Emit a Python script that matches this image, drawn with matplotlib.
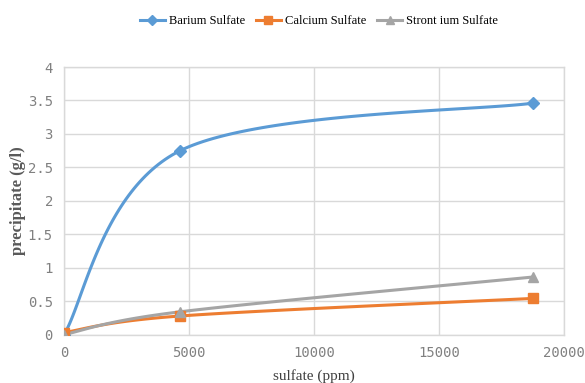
import numpy as np
import matplotlib
matplotlib.use("Agg")
import matplotlib.pyplot as plt
from matplotlib.lines import Line2D

# Data
sulfate_ppm = [0, 4650, 18760]
barium = [0.0, 2.75, 3.46]
calcium = [0.03, 0.277, 0.54]
strontium = [0.0, 0.34, 0.86]
series_names = ["Barium Sulfate", "Calcium Sulfate", "Stront ium Sulfate"]
x_ticks = [0, 5000, 10000, 15000, 20000]
y_ticks = [0, 0.5, 1, 1.5, 2, 2.5, 3, 3.5, 4]
y_tick_labels = ["0", "0.5", "1", "1.5", "2", "2.5", "3", "3.5", "4"]

colors = ["#5B9BD5", "#ED7D31", "#A5A5A5"]
markers = ["D", "s", "^"]
msizes = [6, 7, 7]


def smooth(xs, ys, n=60):
    P = np.column_stack([xs, ys]).astype(float)
    out = []
    m = len(P)
    for i in range(m - 1):
        p0 = P[i - 1] if i > 0 else P[i]
        p1 = P[i]
        p2 = P[i + 1]
        p3 = P[i + 2] if i + 2 < m else P[i + 1]
        c1 = p1 + (p2 - p0) / 6.0
        c2 = p2 - (p3 - p1) / 6.0
        t = np.linspace(0, 1, n)[:, None]
        b = ((1 - t) ** 3) * p1 + 3 * ((1 - t) ** 2) * t * c1 + 3 * (1 - t) * t ** 2 * c2 + t ** 3 * p2
        out.append(b if i == 0 else b[1:])
    B = np.vstack(out)
    return B[:, 0], B[:, 1]


fig = plt.figure(figsize=(5.85, 3.83), dpi=100)
ax = fig.add_axes([0.1094, 0.1266, 0.8547, 0.6984])

for ys, c, mk, ms in zip([barium, calcium, strontium], colors, markers, msizes):
    sx, sy = smooth(sulfate_ppm, ys)
    ax.plot(sx, sy, color=c, lw=2.2, solid_capstyle="round", zorder=3)
    ax.plot(sulfate_ppm, ys, ls="none", marker=mk, ms=ms, color=c, zorder=4)

ax.set_xlim(0, 20000)
ax.set_ylim(0, 4)
ax.set_xticks(x_ticks)
ax.set_yticks(y_ticks)
ax.set_yticklabels(y_tick_labels)
ax.grid(True, color="#D9D9D9", lw=1)
ax.set_axisbelow(True)
for s in ax.spines.values():
    s.set_color("#D9D9D9")
    s.set_linewidth(1)
ax.tick_params(length=0, labelsize=10, colors="#595959", pad=8)
for lab in ax.get_xticklabels() + ax.get_yticklabels():
    lab.set_family("DejaVu Sans Mono")
    lab.set_color("#808080")

ax.set_xlabel("sulfate (ppm)", family="Liberation Serif", fontsize=11, color="#404040", labelpad=7)
ax.set_ylabel("precipitate (g/l)", family="Liberation Serif", fontsize=12, fontweight="bold",
              color="#595959", labelpad=1)

handles = [Line2D([0], [0], color=c, lw=2.2, marker=mk, ms=ms - 1)
           for c, mk, ms in zip(colors, markers, msizes)]
fig.legend(handles, series_names, loc="center", bbox_to_anchor=(0.545, 0.945), ncol=3,
           frameon=False, prop={"family": "Liberation Serif", "size": 9},
           handlelength=2.0, handletextpad=0.3, columnspacing=0.9)

fig.savefig("out.png", dpi=100)
